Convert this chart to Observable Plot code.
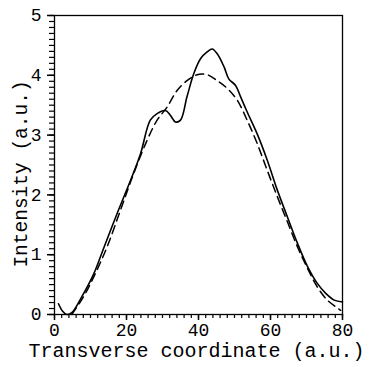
<!DOCTYPE html>
<html><head><meta charset="utf-8">
<script src="https://cdn.jsdelivr.net/npm/d3@7"></script>
<script src="https://cdn.jsdelivr.net/npm/@observablehq/plot@0.6"></script>
<style>body{margin:0;background:#fff}</style>
</head><body><div id="chart"></div>
<script>
const solidX = [1.1,2.2,3.4,4.8,7.6,10.9,13.6,17.4,21.1,23.9,26.6,28.5,30.8,32.2,33.6,35.0,36.8,38.7,40.6,42.4,43.8,45.2,47.1,48.4,50.3,51.7,53.5,56.3,59.1,61.9,64.7,67.5,70.3,73.0,75.4,77.7,80];
const solidY = [0.18,0.06,0.0,0.03,0.30,0.68,1.10,1.69,2.24,2.69,3.25,3.36,3.41,3.33,3.22,3.25,3.64,4.03,4.28,4.39,4.44,4.36,4.14,3.94,3.83,3.64,3.39,3.02,2.58,2.08,1.63,1.19,0.80,0.52,0.35,0.24,0.21];
const dashX = [4.8,8.1,11.3,14.6,18.3,22.0,25.7,28.5,31.3,34.1,36.8,39.6,42.4,45.2,48.0,50.8,53.5,56.3,59.1,61.9,64.7,67.5,70.3,73.0,75.8,78.1,79.5];
const dashY = [0.0,0.30,0.68,1.13,1.74,2.36,2.91,3.25,3.47,3.75,3.91,4.01,4.01,3.91,3.78,3.58,3.25,2.86,2.41,1.97,1.55,1.13,0.77,0.46,0.24,0.13,0.07];
const xTicks = [0,20,40,60,80];
const yTicks = [0,1,2,3,4,5];
const xLabel = "Transverse coordinate (a.u.)";
const yLabel = "Intensity (a.u.)";

const solid = solidX.map((x,i)=>({x, y: solidY[i]}));
const dashed = dashX.map((x,i)=>({x, y: dashY[i]}));
const xMinor = d3.range(0, 80.001, 2);
const yMinor = d3.range(0, 50.5, 1).map(d=>d/10);
const fmt = d3.format("d");
const FONT = "Liberation Mono, DejaVu Sans Mono, monospace";

const chart = Plot.plot({
  width: 369, height: 367,
  marginLeft: 54, marginRight: 27, marginTop: 15, marginBottom: 53,
  x: {domain: [0, 80], axis: null},
  y: {domain: [0, 5], axis: null},
  marks: [
    Plot.axisX(xMinor, {tickSize: 4, tickFormat: () => "", label: null, stroke: "#000", strokeWidth: 1.2}),
    Plot.axisX(xTicks, {tickSize: 6, tickPadding: 3, fontSize: 18, fontFamily: FONT, tickFormat: fmt, label: null, stroke: "#000", fill: "#000", strokeWidth: 1.5}),
    Plot.axisY(yMinor, {tickSize: 5, tickFormat: () => "", label: null, stroke: "#000", strokeWidth: 1.2}),
    Plot.axisY(yTicks, {tickSize: 7, tickPadding: 6, fontSize: 18, fontFamily: FONT, tickFormat: fmt, label: null, stroke: "#000", fill: "#000", strokeWidth: 1.5}),
    Plot.frame({stroke: "#000", strokeWidth: 1.3}),
    Plot.line(solid, {x: "x", y: "y", curve: "catmull-rom", stroke: "#000", strokeWidth: 1.6}),
    Plot.line(dashed, {x: "x", y: "y", curve: "catmull-rom", stroke: "#000", strokeWidth: 1.5, strokeDasharray: "8,5"}),
    Plot.text([xLabel], {text: d=>d, frameAnchor: "bottom", textAnchor: "middle", lineAnchor: "middle", dy: 36, dx: -2, fontSize: 20, fontFamily: FONT, fill: "#000"}),
    Plot.text([yLabel], {text: d=>d, frameAnchor: "left", textAnchor: "middle", lineAnchor: "middle", rotate: -90, dx: -34, dy: 9, fontSize: 19.5, fontFamily: FONT, fill: "#000"})
  ]
});
document.getElementById("chart").appendChild(chart);
</script></body></html>
